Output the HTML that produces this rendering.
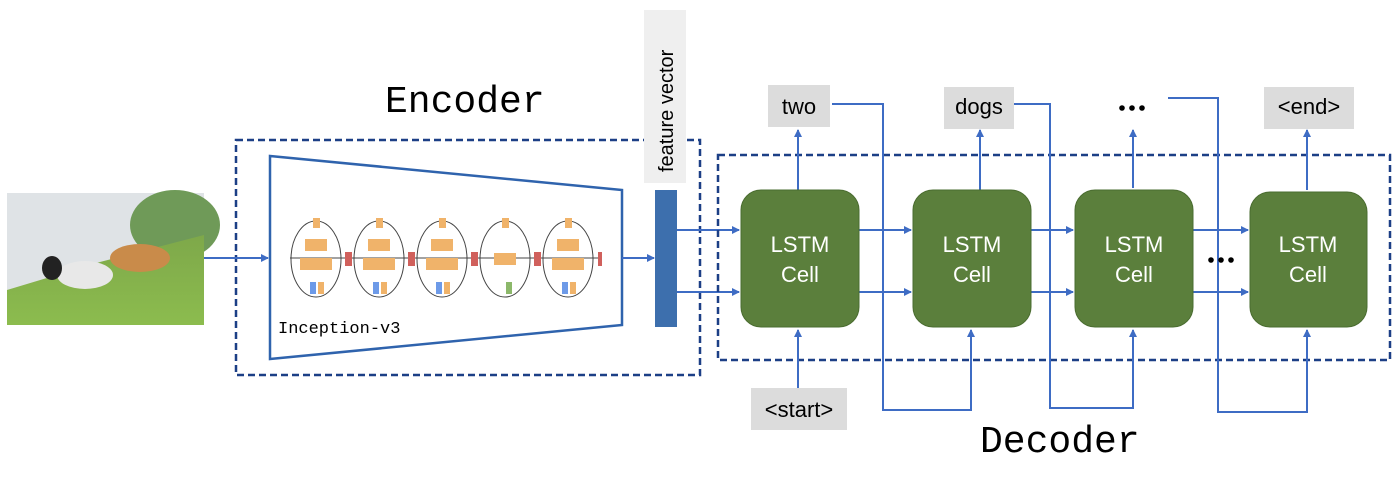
<!DOCTYPE html>
<html><head><meta charset="utf-8"><style>
body{margin:0;background:#fff;width:1400px;height:480px;overflow:hidden}
svg{display:block}
</style></head><body>
<svg width="1400" height="480" viewBox="0 0 1400 480" xmlns="http://www.w3.org/2000/svg">
<defs>
<marker id="a" markerWidth="8" markerHeight="8" refX="7" refY="4" orient="auto" markerUnits="userSpaceOnUse"><path d="M0,0 L8,4 L0,8 z" fill="#3e6cc4"/></marker>
<linearGradient id="g" x1="0" y1="0" x2="0" y2="1"><stop offset="0" stop-color="#7ea84a"/><stop offset="1" stop-color="#8cbc4e"/></linearGradient>
</defs>
<!-- photo -->
<rect x="7" y="193" width="197" height="132" fill="#dfe3e6"/>
<ellipse cx="175" cy="225" rx="45" ry="35" fill="#6f9a58"/>
<path d="M7 290 L100 262 L204 235 L204 325 L7 325 Z" fill="url(#g)"/>
<ellipse cx="140" cy="258" rx="30" ry="14" fill="#c98b4a"/>
<ellipse cx="85" cy="275" rx="28" ry="14" fill="#e8e8e8"/>
<ellipse cx="52" cy="268" rx="10" ry="12" fill="#222"/>
<!-- encoder -->
<text x="385" y="112" font-family="Liberation Mono,monospace" font-size="38">Encoder</text>
<rect x="236" y="140" width="464" height="235" fill="none" stroke="#1c3f86" stroke-width="2.5" stroke-dasharray="7,4"/>
<polygon points="270,156 622,190 622,325 270,359" fill="none" stroke="#2f63ad" stroke-width="2.5"/>
<text x="278" y="333" font-family="Liberation Mono,monospace" font-size="17">Inception-v3</text>
<line x1="204" y1="258" x2="268" y2="258" stroke="#3e6cc4" stroke-width="2" marker-end="url(#a)"/>
<line x1="622" y1="258" x2="654" y2="258" stroke="#3e6cc4" stroke-width="2" marker-end="url(#a)"/>
<g stroke="#444" stroke-width="1" fill="none">
<line x1="290" y1="258" x2="600" y2="258"/>
<ellipse cx="316" cy="259" rx="25" ry="38"/><ellipse cx="379" cy="259" rx="25" ry="38"/><ellipse cx="442" cy="259" rx="25" ry="38"/><ellipse cx="505" cy="259" rx="25" ry="38"/><ellipse cx="568" cy="259" rx="25" ry="38"/>
</g>
<g fill="#f0b36a">
<rect x="313" y="218" width="7" height="10"/><rect x="376" y="218" width="7" height="10"/><rect x="439" y="218" width="7" height="10"/><rect x="502" y="218" width="7" height="10"/><rect x="565" y="218" width="7" height="10"/>
<rect x="305" y="239" width="22" height="12"/><rect x="368" y="239" width="22" height="12"/><rect x="431" y="239" width="22" height="12"/><rect x="494" y="253" width="22" height="12"/><rect x="557" y="239" width="22" height="12"/>
<rect x="300" y="258" width="32" height="12"/><rect x="363" y="258" width="32" height="12"/><rect x="426" y="258" width="32" height="12"/><rect x="552" y="258" width="32" height="12"/>
<rect x="318" y="282" width="6" height="12"/><rect x="381" y="282" width="6" height="12"/><rect x="444" y="282" width="6" height="12"/><rect x="570" y="282" width="6" height="12"/>
</g>
<g fill="#6d9ae8"><rect x="310" y="282" width="6" height="12"/><rect x="373" y="282" width="6" height="12"/><rect x="436" y="282" width="6" height="12"/><rect x="562" y="282" width="6" height="12"/></g>
<rect x="506" y="282" width="6" height="12" fill="#8cb86a"/>
<g fill="#d0605c"><rect x="345" y="252" width="7" height="14"/><rect x="408" y="252" width="7" height="14"/><rect x="471" y="252" width="7" height="14"/><rect x="534" y="252" width="7" height="14"/><rect x="598" y="252" width="4" height="14"/></g>
<!-- feature vector -->
<rect x="644" y="10" width="42" height="173" fill="#efefef"/>
<text transform="translate(673,172) rotate(-90)" font-family="Liberation Sans,sans-serif" font-size="20">feature vector</text>
<rect x="655" y="190" width="22" height="137" fill="#3d6fad"/>
<line x1="677" y1="230" x2="739" y2="230" stroke="#3e6cc4" stroke-width="2" marker-end="url(#a)"/>
<line x1="677" y1="292" x2="739" y2="292" stroke="#3e6cc4" stroke-width="2" marker-end="url(#a)"/>
<!-- decoder -->
<rect x="718" y="155" width="672" height="205" fill="none" stroke="#1c3f86" stroke-width="2.5" stroke-dasharray="7,4"/>
<g stroke="#3e6cc4" stroke-width="2" fill="none">
<polyline points="832,104 883,104 883,410 971,410 971,330" marker-end="url(#a)"/>
<polyline points="1014,104 1050,104 1050,408 1133,408 1133,330" marker-end="url(#a)"/>
<polyline points="1168,98 1218,98 1218,412 1307,412 1307,330" marker-end="url(#a)"/>
<line x1="798" y1="388" x2="798" y2="330" marker-end="url(#a)"/>
<line x1="798" y1="190" x2="798" y2="130" marker-end="url(#a)"/>
<line x1="980" y1="190" x2="980" y2="130" marker-end="url(#a)"/>
<line x1="1133" y1="188" x2="1133" y2="130" marker-end="url(#a)"/>
<line x1="1307" y1="190" x2="1307" y2="130" marker-end="url(#a)"/>
<line x1="859" y1="230" x2="911" y2="230" marker-end="url(#a)"/>
<line x1="859" y1="292" x2="911" y2="292" marker-end="url(#a)"/>
<line x1="1031" y1="230" x2="1073" y2="230" marker-end="url(#a)"/>
<line x1="1031" y1="292" x2="1073" y2="292" marker-end="url(#a)"/>
<line x1="1193" y1="230" x2="1248" y2="230" marker-end="url(#a)"/>
<line x1="1193" y1="292" x2="1248" y2="292" marker-end="url(#a)"/>
</g>
<g fill="#5b7f3c" stroke="#4a6c30" stroke-width="1">
<rect x="741" y="190" width="118" height="137" rx="20"/>
<rect x="913" y="190" width="118" height="137" rx="20"/>
<rect x="1075" y="190" width="118" height="137" rx="20"/>
<rect x="1250" y="192" width="117" height="135" rx="20"/>
</g>
<g font-family="Liberation Sans,sans-serif" font-size="22" fill="#fff" text-anchor="middle">
<text x="800" y="252">LSTM</text><text x="800" y="282">Cell</text>
<text x="972" y="252">LSTM</text><text x="972" y="282">Cell</text>
<text x="1134" y="252">LSTM</text><text x="1134" y="282">Cell</text>
<text x="1308" y="252">LSTM</text><text x="1308" y="282">Cell</text>
</g>
<g fill="#dcdcdc"><rect x="768" y="85" width="62" height="42"/><rect x="944" y="87" width="70" height="42"/><rect x="1264" y="87" width="90" height="42"/><rect x="751" y="388" width="96" height="42"/></g>
<g font-family="Liberation Sans,sans-serif" font-size="22" text-anchor="middle" fill="#000">
<text x="799" y="114">two</text><text x="979" y="114">dogs</text><text x="1309" y="114">&lt;end&gt;</text><text x="799" y="417">&lt;start&gt;</text>
</g>
<g fill="#000"><circle cx="1122" cy="108" r="2.8"/><circle cx="1132" cy="108" r="2.8"/><circle cx="1142" cy="108" r="2.8"/>
<circle cx="1211" cy="260" r="2.8"/><circle cx="1221" cy="260" r="2.8"/><circle cx="1231" cy="260" r="2.8"/></g>
<text x="980" y="452" font-family="Liberation Mono,monospace" font-size="38">Decoder</text>
</svg>
</body></html>
